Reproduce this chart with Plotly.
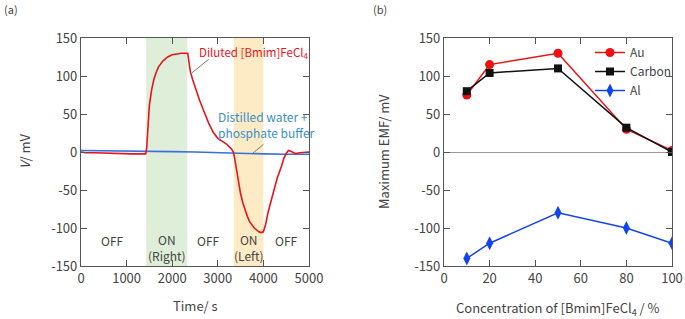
import plotly.graph_objects as go

# ---- Panel (a) data ----
time_red = [0, 100, 300, 500, 700, 900, 1100, 1300, 1420, 1440, 1470, 1500, 1550, 1600, 1650, 1700,
            1800, 1900, 2000, 2100, 2200, 2340, 2370, 2400, 2450, 2500, 2600, 2700, 2800, 2900, 3000,
            3100, 3200, 3300, 3340, 3360, 3400, 3450, 3500, 3550, 3600, 3650, 3700, 3800, 3900, 3950,
            4000, 4050, 4100, 4150, 4200, 4300, 4400, 4450, 4500, 4550, 4600, 4650, 4700, 4800, 4900, 5000]
v_red = [0, -1, -1, -1.5, -2, -2, -2.5, -2.5, -2.5, 5, 40, 62, 82, 96, 105, 112,
         120, 125, 128, 129.5, 130, 130, 118, 105, 95, 85, 68, 53, 38, 26, 18,
         14, 10, 4, 0, -5, -20, -38, -55, -67, -77, -85, -92, -100, -105, -106,
         -105, -95, -80, -68, -55, -35, -18, -8, -2, 2, 1, -1, -2, -1, 0, 0]
time_blue = [0, 500, 1000, 1500, 2000, 2500, 3000, 3500, 4000, 4500, 5000]
v_blue = [2, 1.8, 1.5, 1, 0.5, 0, -1, -2, -2.5, -3, -3]

on_right = [1430, 2330]
on_left = [3350, 4000]
state_labels = ["OFF", "ON<br>(Right)", "OFF", "ON<br>(Left)", "OFF"]
state_x = [700, 1880, 2800, 3680, 4500]
state_y = [-116, -125, -116, -125, -116]

# ---- Panel (b) data ----
conc = [10, 20, 50, 80, 100]
emf_au = [75, 115, 130, 30, 2]
emf_carbon = [80, 104, 110, 32, 0]
emf_al = [-140, -120, -80, -100, -120]

y_ticks = [-150, -100, -50, 0, 50, 100, 150]
y_ticklabels = ["-150", "-100", "-50", "0", "50", "100", "150"]

FONT = "Noto Sans CJK JP"
AX = "#555555"
TXT = "#444444"
W, H = 685, 319

def fx(px):
    return px / W

def fy(py):
    return 1 - py / H

fig = go.Figure()

fig.add_trace(go.Scatter(x=time_blue, y=v_blue, mode="lines",
                         line=dict(color="#3b6fe0", width=1.6), showlegend=False,
                         xaxis="x", yaxis="y"))
fig.add_trace(go.Scatter(x=time_red, y=v_red, mode="lines",
                         line=dict(color="#e8141c", width=1.6), showlegend=False,
                         xaxis="x", yaxis="y"))

fig.add_trace(go.Scatter(x=conc, y=emf_au, mode="lines+markers", name="Au",
                         line=dict(color="#ee1111", width=1.5),
                         marker=dict(symbol="circle", size=9, color="#ee1111"),
                         xaxis="x2", yaxis="y2"))
fig.add_trace(go.Scatter(x=conc, y=emf_carbon, mode="lines+markers", name="Carbon",
                         line=dict(color="#111111", width=1.5),
                         marker=dict(symbol="square", size=8, color="#111111"),
                         xaxis="x2", yaxis="y2"))
fig.add_trace(go.Scatter(x=conc, y=emf_al, mode="lines+markers", name="Al",
                         line=dict(color="#1144ee", width=1.5),
                         marker=dict(symbol="diamond-tall", size=10, color="#1144ee"),
                         xaxis="x2", yaxis="y2"))

axis_common = dict(showline=True, linecolor=AX, linewidth=1.2, mirror="ticks",
                   ticks="inside", ticklen=6, tickcolor=AX, tickwidth=1.2,
                   showgrid=False, automargin=False,
                   tickfont=dict(family=FONT, size=13, color=TXT))

xd1 = [fx(81), fx(309)]
xd2 = [fx(444), fx(672)]
yd = [fy(266), fy(38)]

fig.update_layout(
    width=W, height=H,
    margin=dict(l=0, r=0, t=0, b=0, autoexpand=False),
    paper_bgcolor="white", plot_bgcolor="white",
    font=dict(family=FONT, color=TXT),
    xaxis=dict(domain=xd1, range=[0, 5000], dtick=1000, zeroline=False, anchor="y", **axis_common),
    yaxis=dict(domain=yd, range=[-150, 150], tickvals=y_ticks, ticktext=y_ticklabels,
               zeroline=False, anchor="x", **axis_common),
    xaxis2=dict(domain=xd2, range=[0, 100], dtick=20, zeroline=False, anchor="y2", **axis_common),
    yaxis2=dict(domain=yd, range=[-150, 150], tickvals=y_ticks, ticktext=y_ticklabels,
                zeroline=True, zerolinecolor="#999999", zerolinewidth=1, anchor="x2", **axis_common),
    legend=dict(x=fx(590), y=fy(38), xanchor="left", yanchor="top",
                bgcolor="rgba(0,0,0,0)", font=dict(family=FONT, size=12, color=TXT),
                tracegroupgap=0, itemwidth=30),
)

fig.add_shape(type="rect", xref="x", yref="y domain", x0=on_right[0], x1=on_right[1], y0=0, y1=1,
              fillcolor="#dfeed8", line=dict(width=0), layer="below")
fig.add_shape(type="rect", xref="x", yref="y domain", x0=on_left[0], x1=on_left[1], y0=0, y1=1,
              fillcolor="#fdebc6", line=dict(width=0), layer="below")

# leader lines
fig.add_shape(type="line", xref="x", yref="y", x0=2800, y0=122, x1=2430, y1=104,
              line=dict(color="#555555", width=0.8))
fig.add_shape(type="line", xref="x", yref="y", x0=4000, y0=10, x1=3760, y1=-2,
              line=dict(color="#555555", width=0.8))

ann = []
ann.append(dict(x=fx(197), y=fy(53), xref="paper", yref="paper", text="Diluted [Bmim]FeCl<sub>4</sub>",
                showarrow=False, xanchor="left", yanchor="middle",
                font=dict(family=FONT, size=11.5, color="#e8141c")))
ann.append(dict(x=fx(216), y=fy(125), xref="paper", yref="paper", text="Distilled water +<br>phosphate buffer",
                showarrow=False, xanchor="left", yanchor="middle", align="left",
                font=dict(family=FONT, size=12, color="#3a8fc8")))
for sx, sl, sy in zip(state_x, state_labels, state_y):
    ann.append(dict(x=sx, y=sy, xref="x", yref="y", text=sl, showarrow=False,
                    xanchor="center", yanchor="middle", align="center",
                    font=dict(family=FONT, size=12, color=TXT)))
ann.append(dict(x=fx(195), y=fy(305), xref="paper", yref="paper", text="Time/ s",
                showarrow=False, xanchor="center", yanchor="middle",
                font=dict(family=FONT, size=13, color=TXT)))
ann.append(dict(x=fx(24), y=fy(152), xref="paper", yref="paper", text="<i>V</i>/ mV",
                showarrow=False, textangle=-90, xanchor="center", yanchor="middle",
                font=dict(family=FONT, size=13, color=TXT)))
ann.append(dict(x=fx(558), y=fy(308), xref="paper", yref="paper",
                text="Concentration of [Bmim]FeCl<sub>4</sub> / %",
                showarrow=False, xanchor="center", yanchor="middle",
                font=dict(family=FONT, size=13, color=TXT)))
ann.append(dict(x=fx(383), y=fy(152), xref="paper", yref="paper", text="Maximum EMF/ mV",
                showarrow=False, textangle=-90, xanchor="center", yanchor="middle",
                font=dict(family=FONT, size=13, color=TXT)))
ann.append(dict(x=fx(2), y=fy(9), xref="paper", yref="paper", text="(a)",
                showarrow=False, xanchor="left", yanchor="middle",
                font=dict(family=FONT, size=11, color=TXT)))
ann.append(dict(x=fx(371), y=fy(9), xref="paper", yref="paper", text="(b)",
                showarrow=False, xanchor="left", yanchor="middle",
                font=dict(family=FONT, size=11, color=TXT)))
fig.update_layout(annotations=ann)

fig.write_html("out.html", config={"displayModeBar": False},
               post_script="document.body.style.margin='0';document.body.style.overflow='hidden';")
